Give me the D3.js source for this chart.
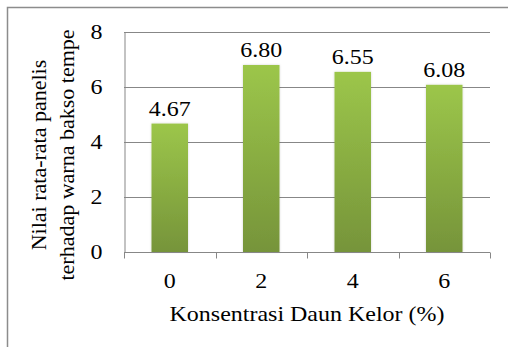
<!DOCTYPE html>
<html>
<head>
<meta charset="utf-8">
<script src="https://cdn.jsdelivr.net/npm/d3@7"></script>
<style>
  html, body { margin: 0; padding: 0; background: #fff; }
  svg { display: block; }
</style>
</head>
<body>
<svg id="chart" width="508" height="347"></svg>
<script>
// Mean panel colour scores of tempe meatballs by moringa leaf concentration
const categories = ["0", "2", "4", "6"];
const values = [4.67, 6.80, 6.55, 6.08];
const valueLabels = ["4.67", "6.80", "6.55", "6.08"];
const yTicks = [0, 2, 4, 6, 8];
const xTitle = "Konsentrasi Daun Kelor (%)";
const yTitleLines = ["Nilai rata-rata panelis", "terhadap warna bakso tempe"];

const FONT = "Liberation Serif";
const FS = 22;      // text size
const SX = 1.09;    // horizontal widening of upright text
const svg = d3.select("#chart");
const W = 508, H = 347;
const plot = { left: 124, right: 490, top: 32, bottom: 252 };

// places an upright text label, widened horizontally about its anchor
function label(parent, px, py, str, anchor, size) {
  return parent.append("g")
    .attr("transform", `translate(${px},${py}) scale(${SX},1)`)
    .append("text")
    .attr("text-anchor", anchor)
    .style("font-family", FONT)
    .style("font-size", (size || FS) + "px")
    .attr("fill", "#000")
    .text(str);
}

// chart frame
svg.append("rect")
  .attr("x", 7.5).attr("y", 7.5)
  .attr("width", W + 10).attr("height", H + 10)
  .attr("fill", "#fff").attr("stroke", "#8c8c8c").attr("stroke-width", 1.5);

const defs = svg.append("defs");
const grad = defs.append("linearGradient")
  .attr("id", "barGrad").attr("x1", 0).attr("y1", 0).attr("x2", 0).attr("y2", 1);
grad.append("stop").attr("offset", "0%").attr("stop-color", "#9cc64a");
grad.append("stop").attr("offset", "100%").attr("stop-color", "#76943a");

// soft shadow around the bars
const shadow = defs.append("filter").attr("id", "barShadow")
  .attr("x", "-20%").attr("y", "-5%").attr("width", "140%").attr("height", "110%");
shadow.append("feDropShadow").attr("dx", 0).attr("dy", 0).attr("stdDeviation", 1.2)
  .attr("flood-color", "#000").attr("flood-opacity", 0.18);

const x = d3.scaleBand().domain(categories).range([plot.left, plot.right]).paddingInner(0).paddingOuter(0);
const y = d3.scaleLinear().domain([0, 8]).range([plot.bottom, plot.top]);

// horizontal gridlines
svg.append("g")
  .selectAll("line").data(yTicks.filter(d => d > 0)).join("line")
  .attr("x1", plot.left).attr("x2", plot.right)
  .attr("y1", d => Math.round(y(d)) + 0.5).attr("y2", d => Math.round(y(d)) + 0.5)
  .attr("stroke", "#878787").attr("stroke-width", 1);

// bars
const barW = 36.5;
svg.append("g")
  .selectAll("rect").data(values).join("rect")
  .attr("x", (d, i) => x(categories[i]) + x.bandwidth() / 2 - barW / 2)
  .attr("y", d => y(d))
  .attr("width", barW)
  .attr("height", d => y(0) - y(d))
  .attr("fill", "url(#barGrad)")
  .attr("filter", "url(#barShadow)");

// value labels
const gv = svg.append("g");
values.forEach((v, i) => {
  label(gv, x(categories[i]) + x.bandwidth() / 2, y(v) - 8, valueLabels[i], "middle");
});

// y axis line
const yAxis = d3.axisLeft(y).tickValues(yTicks).tickSize(0).tickFormat("");
const gy = svg.append("g").attr("transform", `translate(${plot.left + 0.5},0)`).call(yAxis);
gy.select(".domain").attr("stroke", "#878787");
// y tick labels
yTicks.forEach(t => {
  label(gy, -22, y(t), d3.format("d")(t), "end").attr("dy", "0.34em");
});

// x axis line
const xAxis = d3.axisBottom(x).tickSize(0).tickFormat("");
const gx = svg.append("g").attr("transform", `translate(0,${plot.bottom + 0.5})`).call(xAxis);
gx.select(".domain").attr("stroke", "#878787").attr("d", `M${plot.left},0H${plot.right}`);
// category boundary ticks
gx.append("g").selectAll("line")
  .data(categories.map(c => x(c)).concat([plot.right]))
  .join("line")
  .attr("x1", d => Math.round(d) + 0.5).attr("x2", d => Math.round(d) + 0.5)
  .attr("y1", 0).attr("y2", 6)
  .attr("stroke", "#878787");
// category labels
categories.forEach(c => {
  label(gx, x(c) + x.bandwidth() / 2, 35, c, "middle");
});

// axis titles
label(svg, 307, 321, xTitle, "middle");

const yt = svg.append("g").attr("transform", "translate(0,155) rotate(-90)");
yt.selectAll("text").data(yTitleLines).join("text")
  .attr("x", 0).attr("y", (d, i) => 46 + i * 28)
  .attr("text-anchor", "middle")
  .style("font-family", FONT)
  .style("font-size", FS + "px")
  .attr("fill", "#000")
  .text(d => d);
</script>
</body>
</html>
